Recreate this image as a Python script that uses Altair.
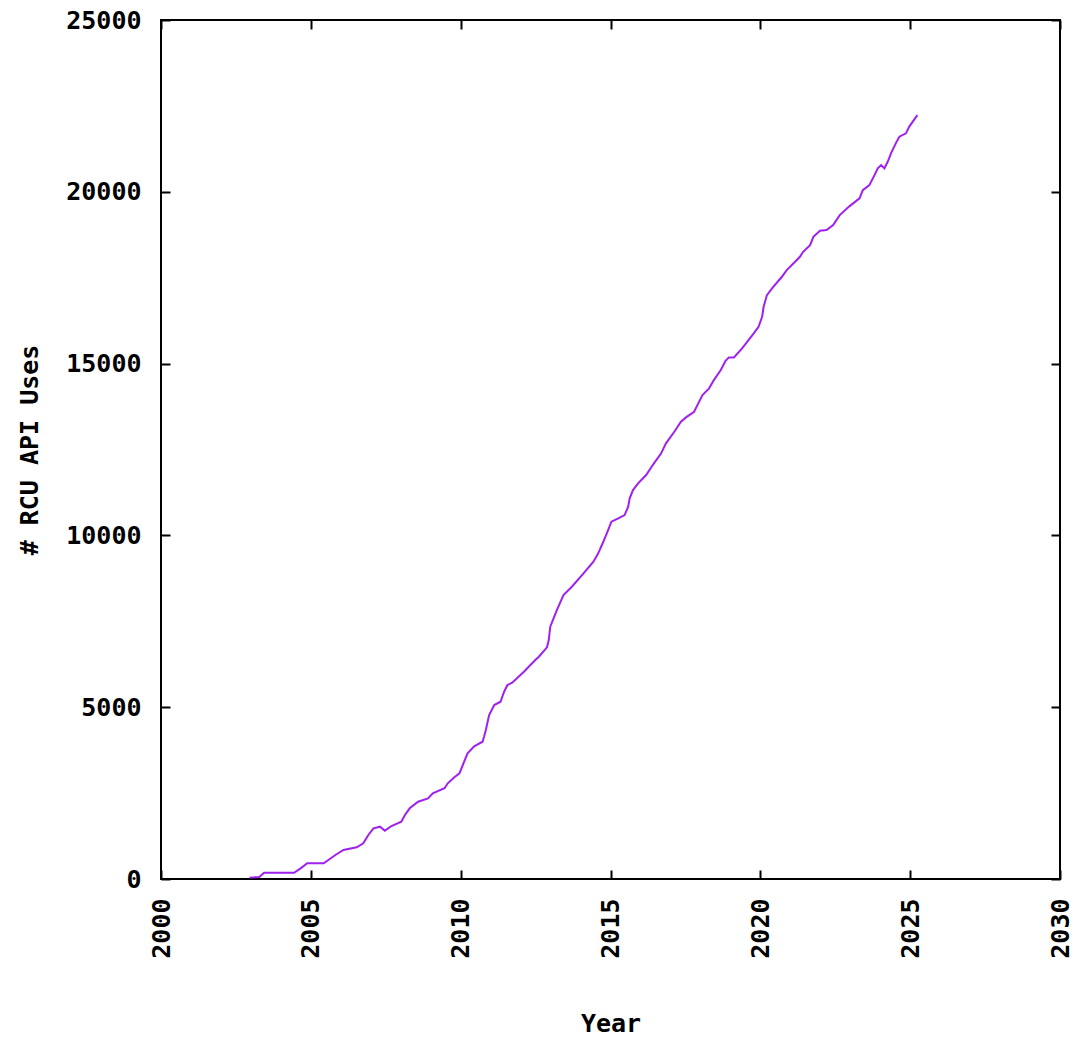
import altair as alt
import pandas as pd

years = [2002.95, 2003.28, 2003.44, 2004.44, 2004.66, 2004.88, 2005.43, 2005.82, 2006.09, 2006.53,
         2006.75, 2006.92, 2007.09, 2007.31, 2007.47, 2007.69, 2008.02, 2008.14, 2008.30, 2008.58,
         2008.91, 2009.07, 2009.46, 2009.57, 2009.79, 2009.96, 2010.07, 2010.23, 2010.45, 2010.73,
         2010.78, 2010.84, 2010.95, 2011.12, 2011.33, 2011.45, 2011.56, 2011.72, 2012.11, 2012.49,
         2012.61, 2012.88, 2012.94, 2012.99, 2013.10, 2013.21, 2013.43, 2013.71, 2014.10, 2014.43,
         2014.59, 2014.76, 2014.92, 2015.03, 2015.26, 2015.47, 2015.59, 2015.64, 2015.75, 2015.92,
         2016.19, 2016.41, 2016.69, 2016.85, 2017.13, 2017.35, 2017.52, 2017.79, 2017.90, 2018.07,
         2018.29, 2018.45, 2018.68, 2018.84, 2018.95, 2019.12, 2019.39, 2019.56, 2019.78, 2019.94,
         2020.06, 2020.11, 2020.22, 2020.39, 2020.72, 2020.88, 2021.16, 2021.32, 2021.43, 2021.66,
         2021.77, 2021.99, 2022.21, 2022.43, 2022.65, 2022.98, 2023.31, 2023.42, 2023.64, 2023.81,
         2023.92, 2024.03, 2024.14, 2024.25, 2024.36, 2024.52, 2024.64, 2024.86, 2024.97, 2025.24]

uses = [40, 60, 183, 183, 311, 457, 457, 698, 844, 922,
        1039, 1280, 1475, 1522, 1406, 1542, 1667, 1862, 2057, 2249,
        2348, 2494, 2640, 2785, 2959, 3076, 3317, 3658, 3860, 3995,
        4141, 4336, 4772, 5063, 5159, 5450, 5645, 5712, 6032, 6373,
        6469, 6743, 6955, 7342, 7586, 7828, 8264, 8506, 8896, 9233,
        9478, 9815, 10156, 10398, 10496, 10592, 10834, 11078, 11320, 11515,
        11756, 12047, 12388, 12679, 13017, 13308, 13435, 13598, 13793, 14084,
        14279, 14521, 14812, 15083, 15181, 15181, 15443, 15635, 15880, 16072,
        16363, 16654, 16994, 17189, 17527, 17722, 17963, 18109, 18254, 18449,
        18691, 18865, 18886, 19031, 19322, 19584, 19808, 20050, 20195, 20486,
        20681, 20777, 20681, 20873, 21118, 21409, 21603, 21702, 21897, 22232]

x_ticks = [2000, 2005, 2010, 2015, 2020, 2025, 2030]
y_ticks = [0, 5000, 10000, 15000, 20000, 25000]

df = pd.DataFrame({"year": years, "uses": uses})

FONT = "DejaVu Sans Mono"
TS = 9

xscale = alt.Scale(domain=[2000, 2030], nice=False, zero=False)
yscale = alt.Scale(domain=[0, 25000], nice=False)

main = alt.Chart(df).mark_line(color="#a020f0", strokeWidth=2).encode(
    x=alt.X("year:Q", scale=xscale,
            axis=alt.Axis(orient="bottom", values=x_ticks, format="d", title="Year",
                          tickSize=TS, offset=-TS, domain=False, grid=False,
                          labelAngle=270, labelPadding=19, titlePadding=53,
                          tickWidth=2, tickColor="black")),
    y=alt.Y("uses:Q", scale=yscale,
            axis=alt.Axis(orient="left", values=y_ticks, format="d", title="# RCU API Uses",
                          tickSize=TS, offset=-TS, domain=False, grid=False,
                          labelPadding=20, titlePadding=23,
                          tickWidth=2, tickColor="black")),
)

mirror = alt.Chart(df).mark_line(opacity=0).encode(
    x=alt.X("year:Q", scale=xscale,
            axis=alt.Axis(orient="top", values=x_ticks, labels=False, title=None,
                          tickSize=TS, offset=-TS, domain=False, grid=False,
                          tickWidth=2, tickColor="black")),
    y=alt.Y("uses:Q", scale=yscale,
            axis=alt.Axis(orient="right", values=y_ticks, labels=False, title=None,
                          tickSize=TS, offset=-TS, domain=False, grid=False,
                          tickWidth=2, tickColor="black")),
)

chart = alt.layer(main, mirror).resolve_axis(x="independent", y="independent").properties(
    width=899, height=859,
    autosize=alt.AutoSizeParams(type="none"),
    padding={"left": 153, "top": 12, "right": 11, "bottom": 155},
).configure_view(
    stroke="black", strokeWidth=2
).configure_axis(
    labelFont=FONT, labelFontSize=25, labelFontWeight="bold", labelColor="black",
    titleFont=FONT, titleFontSize=25, titleFontWeight="bold", titleColor="black",
)

chart.save("out.html", embed_options={"renderer": "svg", "actions": False})
